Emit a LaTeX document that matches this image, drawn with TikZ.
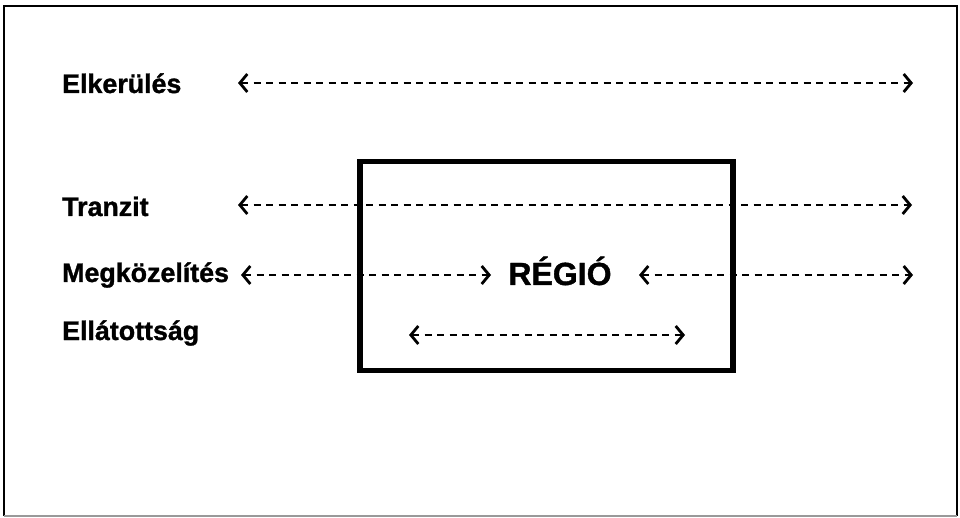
\documentclass[tikz,border=0pt]{standalone}
\usepackage{fontspec}
\setmainfont{Liberation Sans}[BoldFeatures={FakeBold=1.2}]
\usetikzlibrary{arrows.meta}
\begin{document}
\begin{tikzpicture}[x=1pt,y=-1pt,
  label/.style={anchor=base west,inner sep=0pt,font=\bfseries\fontsize{26.8}{31}\selectfont},
  barb/.tip={Straight Barb[length=7.5pt,width=18pt,line width=2.8pt]},
  flow/.style={line width=2.2pt,dash pattern=on 7pt off 5.5pt,barb-barb}]
  \useasboundingbox (0,0) rectangle (960,518);
  % outer frame
  \draw[line width=1.6pt] (4,516) -- (4,6) -- (957,6) -- (957,516);
  \draw[line width=1.4pt,black!40] (4,516) -- (957,516);

  % region box
  \draw[line width=5.5pt] (360,161.5) rectangle (733,370.5);

  % row labels
  \node[label] (elk) at (62,93) {Elkerülés};
  \node[label] (tra) at (62,216) {Tranzit};
  \node[label] (meg) at (62,282) {Megközelítés};
  \node[label] (ell) at (62,340) {Ellátottság};
  \node[anchor=base,inner sep=0pt,font=\bfseries\fontsize{32}{36}\selectfont] (reg) at (560,285) {RÉGIÓ};

  % arrow end points
  \coordinate (e1) at (238,83);  \coordinate (e2) at (913,83);
  \coordinate (t1) at (238,205); \coordinate (t2) at (912,205);
  \coordinate (m1) at (241,275); \coordinate (m2) at (491,275);
  \coordinate (m3) at (639,275); \coordinate (m4) at (913,275);
  \coordinate (l1) at (409,335); \coordinate (l2) at (685,335);

  \draw[flow] (e1) -- (e2);
  \draw[flow] (t1) -- (t2);
  \draw[flow] (m1) -- (m2);
  \draw[flow] (m3) -- (m4);
  \draw[flow] (l1) -- (l2);
\end{tikzpicture}
\end{document}
